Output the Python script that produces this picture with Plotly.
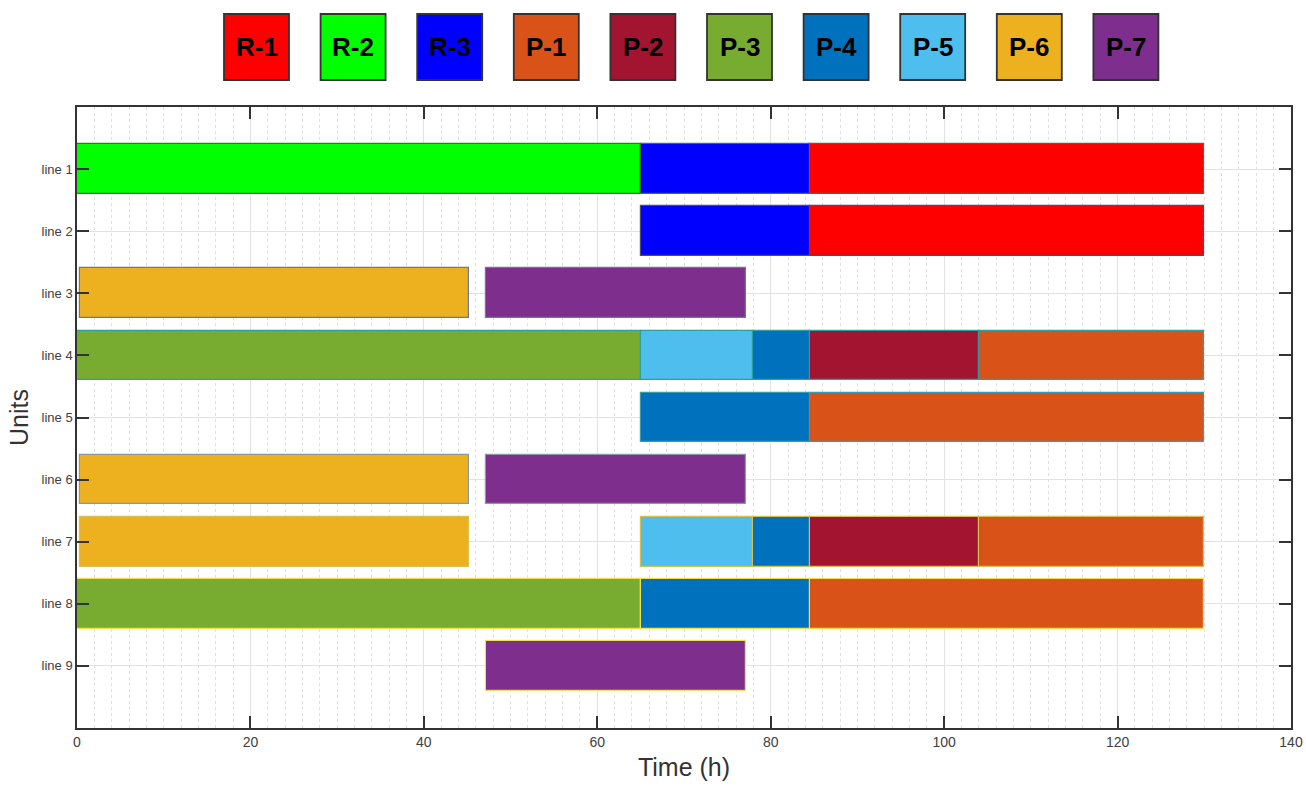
import plotly.graph_objects as go

products = ["R-1", "R-2", "R-3", "P-1", "P-2", "P-3", "P-4", "P-5", "P-6", "P-7"]
product_colors = ["#FF0000", "#00FF00", "#0000FF", "#D95319", "#A2142F",
                  "#77AC30", "#0072BD", "#4DBEEE", "#EDB120", "#7E2F8E"]

line_labels = ["line 1", "line 2", "line 3", "line 4", "line 5",
               "line 6", "line 7", "line 8", "line 9"]
line_edge_colors = ["#3c6e50", "#4a4a7a", "#6a7890", "#2aa0a0", "#3a9ab0",
                    "#8a9aa0", "#d8c050", "#f5e04a", "#f0e060"]

task_line = [1, 1, 1,
             2, 2,
             3, 3,
             4, 4, 4, 4, 4,
             5, 5,
             6, 6,
             7, 7, 7, 7, 7,
             8, 8, 8,
             9]
task_product = ["R-2", "R-3", "R-1",
                "R-3", "R-1",
                "P-6", "P-7",
                "P-3", "P-5", "P-4", "P-2", "P-1",
                "P-4", "P-1",
                "P-6", "P-7",
                "P-6", "P-5", "P-4", "P-2", "P-1",
                "P-3", "P-4", "P-1",
                "P-7"]
task_start = [0, 65, 84.5,
              65, 84.5,
              0.4, 47.2,
              0, 65, 78, 84.5, 104,
              65, 84.5,
              0.4, 47.2,
              0.4, 65, 78, 84.5, 104,
              0, 65, 84.5,
              47.2]
task_end = [65, 84.5, 130,
            84.5, 130,
            45.2, 77.1,
            65, 78, 84.5, 104, 130,
            84.5, 130,
            45.2, 77.1,
            45.2, 78, 84.5, 104, 130,
            65, 84.5, 130,
            77.1]

x_ticks = [0, 20, 40, 60, 80, 100, 120, 140]

W, H = 1306, 787
ML, MR, MT, MB = 77, 15, 107, 59
PW, PH = W - ML - MR, H - MT - MB

fig = go.Figure()

for p, c in zip(products, product_colors):
    idx = [i for i, tp in enumerate(task_product) if tp == p]
    if not idx:
        continue
    fig.add_trace(go.Bar(
        orientation="h",
        y=[task_line[i] for i in idx],
        base=[task_start[i] for i in idx],
        x=[task_end[i] - task_start[i] for i in idx],
        width=0.8,
        marker=dict(color=c,
                    line=dict(color=[line_edge_colors[task_line[i] - 1] for i in idx],
                              width=1.2)),
        name=p,
        showlegend=False,
        hoverinfo="skip",
    ))

# custom legend boxes at top (positions in page pixels)
box_left0 = 224
box_step = 96.6
box_size = 65
box_top, box_bot = 14, 80
for k, (p, c) in enumerate(zip(products, product_colors)):
    x0 = box_left0 + k * box_step
    x1 = x0 + box_size
    fig.add_shape(type="rect", xref="paper", yref="paper",
                  x0=(x0 - ML) / PW, x1=(x1 - ML) / PW,
                  y0=(H - MB - box_bot) / PH, y1=(H - MB - box_top) / PH,
                  fillcolor=c, line=dict(color="#333333", width=1.8), layer="above")
    fig.add_annotation(xref="paper", yref="paper",
                       x=((x0 + x1) / 2 - ML) / PW,
                       y=(H - MB - (box_top + box_bot) / 2) / PH,
                       text="<b>%s</b>" % p, showarrow=False,
                       font=dict(family="Arial, Liberation Sans, sans-serif", size=26, color="#000000"),
                       xanchor="center", yanchor="middle")

axis_font = dict(family="Arial, Liberation Sans, sans-serif", size=14, color="#404040")

fig.update_layout(
    width=W, height=H,
    margin=dict(l=ML, r=MR, t=MT, b=MB, autoexpand=False),
    paper_bgcolor="white", plot_bgcolor="white",
    barmode="overlay",
    bargap=0,
    xaxis=dict(
        range=[0, 140], tickvals=x_ticks, ticktext=[str(v) for v in x_ticks],
        showgrid=True, gridcolor="#e2e2e2", gridwidth=1,
        minor=dict(dtick=2, showgrid=True, gridcolor="#e0e0e0", griddash="dot", gridwidth=1),
        ticks="inside", ticklen=12, tickwidth=1.5, tickcolor="#333333",
        showline=True, linecolor="#333333", linewidth=1.5, mirror="ticks",
        tickfont=axis_font, zeroline=False, automargin=False,
        ticklabeloverflow="allow",
        title=dict(text="Time (h)", font=dict(family="Arial, Liberation Sans, sans-serif", size=25, color="#333333"),
                   standoff=10),
    ),
    yaxis=dict(
        range=[10, 0], tickvals=list(range(1, 10)), ticktext=line_labels,
        showgrid=True, gridcolor="#e2e2e2", gridwidth=1,
        ticks="inside", ticklen=12, tickwidth=1.5, tickcolor="#333333",
        showline=True, linecolor="#333333", linewidth=1.5, mirror="ticks",
        tickfont=dict(family="Arial, Liberation Sans, sans-serif", size=13, color="#404040"),
        zeroline=False, automargin=False,
        title=dict(text="Units", font=dict(family="Arial, Liberation Sans, sans-serif", size=25, color="#333333"),
                   standoff=6),
    ),
)

fig.write_html("out.html",
               config={"displayModeBar": False},
               post_script="document.body.style.margin='0';document.body.style.overflow='hidden';")
